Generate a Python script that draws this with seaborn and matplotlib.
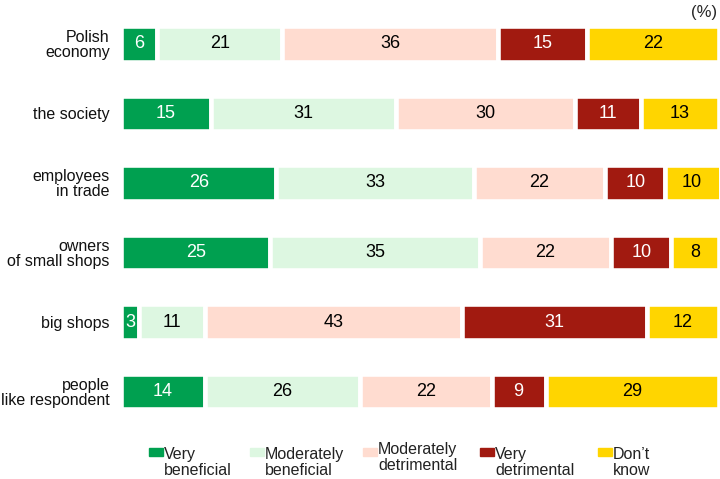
import numpy as np
import matplotlib
matplotlib.use("Agg")
import matplotlib.pyplot as plt
import seaborn as sns
from matplotlib.patches import Rectangle

groups = ["Polish\neconomy", "the society", "employees\nin trade",
          "owners\nof small shops", "big shops", "people\nlike respondent"]
series = ["Very\nbeneficial", "Moderately\nbeneficial", "Moderately\ndetrimental",
          "Very\ndetrimental", "Don\u2019t\nknow"]
very_beneficial = [6, 15, 26, 25, 3, 14]
moderately_beneficial = [21, 31, 33, 35, 11, 26]
moderately_detrimental = [36, 30, 22, 22, 43, 22]
very_detrimental = [15, 11, 10, 10, 31, 9]
dont_know = [22, 13, 10, 8, 12, 29]

colors = ["#00A050", "#DDF7E1", "#FFDCD0", "#A11A10", "#FFD500"]
text_colors = ["white", "black", "black", "white", "black"]

sns.set_theme(style="white")
plt.rcParams['font.family'] = ['Liberation Sans', 'DejaVu Sans']

fig = plt.figure(figsize=(7.2, 4.79), dpi=100)
ax = fig.add_axes([0.168, 0.110, 0.8306, 0.871])

values = [very_beneficial, moderately_beneficial, moderately_detrimental,
          very_detrimental, dont_know]
ypos = np.arange(len(groups))
left = np.zeros(len(groups))
for vals, col, tcol in zip(values, colors, text_colors):
    vals = np.array(vals)
    bars = ax.barh(ypos, vals, left=left, height=0.51, color=col,
                   edgecolor="white", linewidth=3.3)
    ax.bar_label(bars, labels=[str(v) for v in vals], label_type="center",
                 color=tcol, fontsize=13)
    left += vals

ax.set_xlim(0, 100)
ax.set_ylim(len(groups) - 0.5, -0.5)
ax.set_yticks(ypos)
ax.set_yticklabels(groups, fontsize=11.5, linespacing=1.0, color="#111111")
ax.tick_params(axis="y", length=0, pad=8)
ax.set_xticks([])
sns.despine(ax=ax, left=True, bottom=True)

fig.text(0.996, 1 - 13 / 479, "(%)", ha="right", va="center", fontsize=12)

# legend
leg_x = [149, 250, 363, 480, 598]
leg_top = [447, 447, 442, 447, 447]
for x, top, lab, col in zip(leg_x, leg_top, series, colors):
    fig.patches.append(Rectangle((x / 720, 1 - 456 / 479), 14 / 720, 8 / 479,
                                 transform=fig.transFigure, color=col))
    fig.text((x + 15) / 720, 1 - top / 479, lab, ha="left", va="top",
             fontsize=11.5, linespacing=1.05, color="#222222")

fig.savefig("out.png", dpi=100)
